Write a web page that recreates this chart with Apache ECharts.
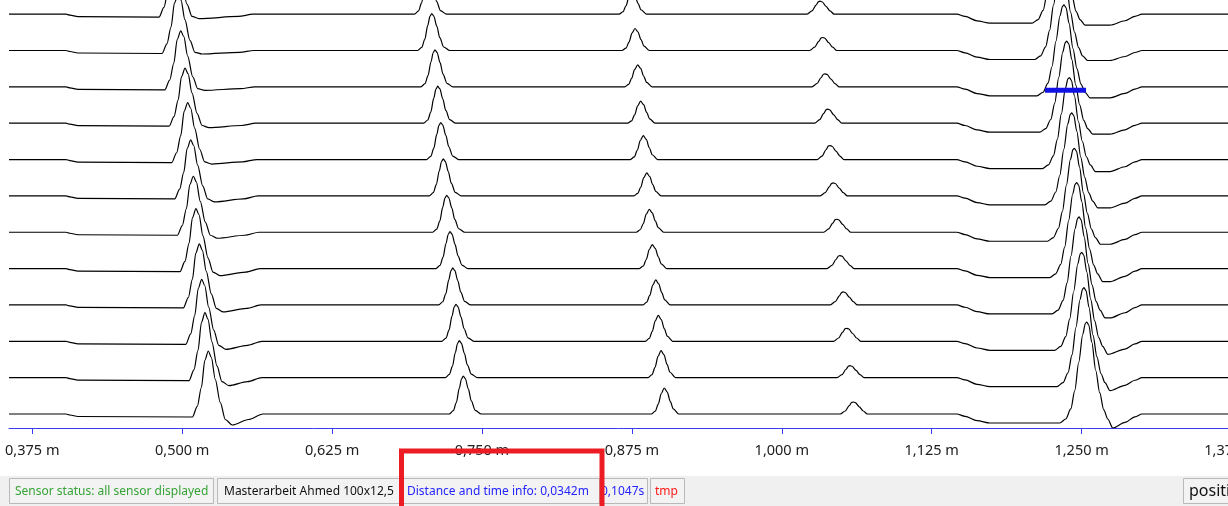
<!DOCTYPE html>
<html>
<head>
<meta charset="utf-8">
<title>Sensor distance profiles</title>
<script src="https://cdn.jsdelivr.net/npm/echarts@6/dist/echarts.min.js"></script>
<style>
  html, body { margin: 0; padding: 0; background: #ffffff; }
  #chart { width: 1228px; height: 506px; }
</style>
</head>
<body>
<div id="chart"></div>
<script>
// Distance axis (mm) and its labelled positions
const axisMinMm = 355.6;
const axisMaxMm = 1375;
const tickValuesMm = [375, 500, 625, 750, 875, 1000, 1125, 1250, 1375];

// Samples shared by every sensor: small steps near the start, the sag before
// the last reflection and the flat tail. Each point is [distance mm, signal].
const startSteps = [[355.6, 0], [403.1, 0], [406.4, -1], [413.1, -2.5]];
const sagSteps = [[1145.9, 0], [1152.8, -2.3], [1162.8, -6.7], [1173.6, -9]];
const tailFlat = [[1300.4, 0], [1375, 0]];

// Sensor 1 (top) ... sensor 12 (bottom): reflections A..E, [distance mm, signal]
const sensor01 = [
  [480.7,-3],[484.8,6.7],[488.2,23.5],[491.1,47.6],[494.0,56],[496.5,50.4],[499.8,30.8],[504.0,10.1],[508.2,-2.3],[514.0,-4.5],[547.0,-2.3],[559.0,0],
  [693.7,0],[697.1,3.2],[699.6,11.2],[702.1,25.1],[703.9,34.1],[705.4,37],[707.1,34.5],[709.6,24.4],[712.1,12.8],[715.4,3.5],[720.4,0],
  [864.3,0],[867.6,2.4],[870.1,8.4],[872.6,17.4],[875.1,22],[877.6,18.5],[880.1,10.8],[882.6,4.4],[887.1,0],
  [1021.1,0],[1025.2,3.3],[1028.6,9.1],[1030.65,12.6],[1031.9,13],[1033.6,12.4],[1036.9,7.8],[1040.2,3.3],[1043.6,0],
  [1208.7,-9],[1213.7,-5.4],[1217.9,3.7],[1221.2,20.1],[1224.5,45.6],[1227.9,71.1],[1230.0,80.6],[1231.2,82],[1232.9,79.3],[1235.4,63.8],[1238.7,38.3],[1242.0,18.3],[1245.4,2.8],[1248.7,-5.4],[1252.9,-11],
  [1273.7,-11],[1286.2,-6.6],[1294.5,-2.2]
];
const sensor02 = [
  [483.2,-3],[487.3,6.7],[490.7,23.5],[493.6,47.6],[496.5,56],[499.0,50.4],[502.3,30.8],[506.5,10.1],[510.7,-1.8],[516.5,-3.5],[547.9,-1.8],[559.9,0],
  [696.4,0],[699.8,3.2],[702.3,11.2],[704.8,25.1],[706.6,34.1],[708.1,37],[709.8,34.5],[712.3,24.4],[714.8,12.8],[718.1,3.5],[723.1,0],
  [866.8,0],[870.1,2.4],[872.6,8.4],[875.1,17.4],[877.6,22],[880.1,18.5],[882.6,10.8],[885.1,4.4],[889.6,0],
  [1023.3,0],[1027.4,3.3],[1030.8,9.1],[1032.85,12.6],[1034.1,13],[1035.8,12.4],[1039.1,7.8],[1042.4,3.3],[1045.8,0],
  [1210.8,-9],[1215.8,-5.4],[1220.0,3.7],[1223.3,20.1],[1226.6,45.6],[1230.0,71.1],[1232.1,80.6],[1233.3,82],[1235.0,79.3],[1237.5,63.8],[1240.8,38.3],[1244.1,18.3],[1247.5,2.8],[1250.8,-5.4],[1255.0,-10],
  [1273.7,-10],[1286.2,-6],[1294.5,-2]
];
const sensor03 = [
  [485.5,-3],[489.6,6.7],[493.0,23.5],[495.9,47.6],[498.8,56],[501.3,50.4],[504.6,30.8],[508.8,10.1],[513.0,-1.8],[518.8,-3.5],[548.7,-1.8],[560.7,0],
  [699.1,0],[702.5,3.2],[705.0,11.2],[707.5,25.1],[709.3,34.1],[710.8,37],[712.5,34.5],[715.0,24.4],[717.5,12.8],[720.8,3.5],[725.8,0],
  [869.0,0],[872.3,2.4],[874.8,8.4],[877.3,17.4],[879.8,22],[882.3,18.5],[884.8,10.8],[887.3,4.4],[891.8,0],
  [1025.2,0],[1029.3,3.3],[1032.7,9.1],[1034.75,12.6],[1036.0,13],[1037.7,12.4],[1041.0,7.8],[1044.3,3.3],[1047.7,0],
  [1212.8,-9],[1217.8,-5.4],[1222.0,3.7],[1225.3,20.1],[1228.6,45.6],[1232.0,71.1],[1234.1,80.6],[1235.3,82],[1237.0,79.3],[1239.5,63.8],[1242.8,38.3],[1246.1,18.3],[1249.5,2.8],[1252.8,-5.4],[1257.0,-11],
  [1273.7,-11],[1286.2,-6.6],[1294.5,-2.2]
];
const sensor04 = [
  [489.1,-3],[493.2,6.6],[496.6,23.1],[499.5,46.8],[502.4,55],[504.9,49.5],[508.2,30.3],[512.4,9.9],[516.6,-2.3],[522.4,-4.5],[549.5,-2.3],[561.5,0],
  [701.4,0],[704.8,3.2],[707.3,11.2],[709.8,25.1],[711.6,34.1],[713.1,37],[714.8,34.5],[717.3,24.4],[719.8,12.8],[723.1,3.5],[728.1,0],
  [871.5,0],[874.8,2.4],[877.3,8.4],[879.8,17.4],[882.3,22],[884.8,18.5],[887.3,10.8],[889.8,4.4],[894.3,0],
  [1027.5,0],[1031.6,3.5],[1035.0,9.8],[1037.05,13.6],[1038.3,14],[1040.0,13.3],[1043.3,8.4],[1046.6,3.5],[1050.0,0],
  [1215.1,-9],[1220.1,-5.4],[1224.3,3.7],[1227.6,20.1],[1230.9,45.6],[1234.3,71.1],[1236.4,80.6],[1237.6,82],[1239.3,79.3],[1241.8,63.8],[1245.1,38.3],[1248.4,18.3],[1251.8,2.8],[1255.1,-5.4],[1259.3,-11],
  [1273.7,-11],[1286.2,-6.6],[1294.5,-2.2]
];
const sensor05 = [
  [491.3,-3],[495.4,6.8],[498.8,23.9],[501.7,48.5],[504.6,57],[507.1,51.3],[510.4,31.4],[514.6,10.3],[518.8,-2.3],[524.6,-4.5],[550.4,-2.3],[562.4,0],
  [703.9,0],[707.3,3.2],[709.8,11.2],[712.3,25.1],[714.1,34.1],[715.6,37],[717.3,34.5],[719.8,24.4],[722.3,12.8],[725.6,3.5],[730.6,0],
  [873.7,0],[877.0,2.6],[879.5,9.1],[882.0,19.0],[884.5,24],[887.0,20.2],[889.5,11.8],[892.0,4.8],[896.5,0],
  [1029.4,0],[1033.5,3.5],[1036.9,9.8],[1038.95,13.6],[1040.2,14],[1041.9,13.3],[1045.2,8.4],[1048.5,3.5],[1051.9,0],
  [1217.3,-9],[1222.3,-5.4],[1226.5,3.7],[1229.8,20.1],[1233.1,45.6],[1236.5,71.1],[1238.6,80.6],[1239.8,82],[1241.5,79.3],[1244.0,63.8],[1247.3,38.3],[1250.6,18.3],[1254.0,2.8],[1257.3,-5.4],[1261.5,-12],
  [1273.7,-12],[1286.2,-7.2],[1294.5,-2.4]
];
const sensor06 = [
  [493.8,-3],[497.9,6.7],[501.3,23.5],[504.2,47.6],[507.1,56],[509.6,50.4],[512.9,30.8],[517.1,10.1],[521.3,-3],[527.1,-6],[551.2,-3],[563.2,0],
  [706.0,0],[709.4,3.2],[711.9,11.2],[714.4,25.1],[716.2,34.1],[717.7,37],[719.4,34.5],[721.9,24.4],[724.4,12.8],[727.7,3.5],[732.7,0],
  [876.6,0],[879.9,2.5],[882.4,8.7],[884.9,18.2],[887.4,23],[889.9,19.3],[892.4,11.3],[894.9,4.6],[899.4,0],
  [1032.1,0],[1036.2,3.3],[1039.6,9.1],[1041.65,12.6],[1042.9,13],[1044.6,12.4],[1047.9,7.8],[1051.2,3.3],[1054.6,0],
  [1219.3,-9],[1224.3,-5.3],[1228.5,3.9],[1231.8,20.4],[1235.1,46.2],[1238.5,72.0],[1240.6,81.6],[1241.8,83],[1243.5,80.2],[1246.0,64.6],[1249.3,38.8],[1252.6,18.6],[1256.0,3.0],[1259.3,-5.3],[1263.5,-12],
  [1273.7,-12],[1286.2,-7.2],[1294.5,-2.4]
];
const sensor07 = [
  [496.0,-3],[500.1,6.7],[503.5,23.5],[506.4,47.6],[509.3,56],[511.8,50.4],[515.1,30.8],[519.3,10.1],[523.5,-3],[529.3,-6],[552.1,-3],[564.1,0],
  [708.9,0],[712.3,3.2],[714.8,11.2],[717.3,25.1],[719.1,34.1],[720.6,37],[722.3,34.5],[724.8,24.4],[727.3,12.8],[730.6,3.5],[735.6,0],
  [878.7,0],[882.0,2.5],[884.5,8.7],[887.0,18.2],[889.5,23],[892.0,19.3],[894.5,11.3],[897.0,4.6],[901.5,0],
  [1035.0,0],[1039.1,3.3],[1042.5,9.1],[1044.55,12.6],[1045.8,13],[1047.5,12.4],[1050.8,7.8],[1054.1,3.3],[1057.5,0],
  [1221.5,-9],[1226.5,-5.3],[1230.7,4.0],[1234.0,20.8],[1237.3,46.8],[1240.7,72.8],[1242.8,82.6],[1244.0,84],[1245.7,81.2],[1248.2,65.4],[1251.5,39.4],[1254.8,18.9],[1258.2,3.1],[1261.5,-5.3],[1265.7,-12],
  [1273.7,-12],[1286.2,-7.2],[1294.5,-2.4]
];
const sensor08 = [
  [498.2,-3],[502.3,7.2],[505.7,25.2],[508.6,51],[511.5,60],[514.0,54],[517.3,33],[521.5,10.8],[525.7,-3.5],[531.5,-7],[552.9,-3.5],[564.9,0],
  [711.6,0],[715.0,3.2],[717.5,11.2],[720.0,25.1],[721.8,34.1],[723.3,37],[725.0,34.5],[727.5,24.4],[730.0,12.8],[733.3,3.5],[738.3,0],
  [881.2,0],[884.5,2.6],[887.0,9.1],[889.5,19.0],[892.0,24],[894.5,20.2],[897.0,11.8],[899.5,4.8],[904.0,0],
  [1037.7,0],[1041.8,3.3],[1045.2,9.1],[1047.25,12.6],[1048.5,13],[1050.2,12.4],[1053.5,7.8],[1056.8,3.3],[1060.2,0],
  [1223.4,-9],[1228.4,-5.2],[1232.6,4.3],[1235.9,21.4],[1239.2,48],[1242.6,74.6],[1244.7,84.6],[1245.9,86],[1247.6,83.2],[1250.1,67],[1253.4,40.4],[1256.7,19.5],[1260.1,3.4],[1263.4,-5.2],[1267.6,-13],
  [1273.7,-13],[1286.2,-7.8],[1294.5,-2.6]
];
const sensor09 = [
  [501.0,-3],[505.1,7.3],[508.5,25.6],[511.4,51.9],[514.3,61],[516.8,54.9],[520.1,33.6],[524.3,11.0],[528.5,-3.5],[534.3,-7],[553.7,-3.5],[565.7,0],
  [713.9,0],[717.3,3.2],[719.8,11.2],[722.3,25.1],[724.1,34.1],[725.6,37],[727.3,34.5],[729.8,24.4],[732.3,12.8],[735.6,3.5],[740.6,0],
  [884.1,0],[887.4,2.8],[889.9,9.5],[892.4,19.8],[894.9,25],[897.4,21],[899.9,12.3],[902.4,5],[906.9,0],
  [1040.5,0],[1044.6,3.3],[1048.0,9.1],[1050.05,12.6],[1051.3,13],[1053.0,12.4],[1056.3,7.8],[1059.6,3.3],[1063.0,0],
  [1225.4,-9],[1230.4,-5.1],[1234.6,4.6],[1237.9,22.0],[1241.2,49.2],[1244.6,76.4],[1246.7,86.5],[1247.9,88],[1249.6,85.1],[1252.1,68.6],[1255.4,41.4],[1258.7,20.1],[1262.1,3.6],[1265.4,-5.1],[1269.6,-13],
  [1273.7,-13],[1286.2,-7.8],[1294.5,-2.6]
];
const sensor10 = [
  [503.0,-3],[507.1,7.4],[510.5,26.0],[513.4,52.7],[516.3,62],[518.8,55.8],[522.1,34.1],[526.3,11.2],[530.5,-4],[536.3,-8],[554.5,-4],[566.5,0],
  [716.6,0],[720.0,3.2],[722.5,11.2],[725.0,25.1],[726.8,34.1],[728.3,37],[730.0,34.5],[732.5,24.4],[735.0,12.8],[738.3,3.5],[743.3,0],
  [886.2,0],[889.5,2.9],[892.0,9.9],[894.5,20.5],[897.0,26],[899.5,21.8],[902.0,12.7],[904.5,5.2],[909.0,0],
  [1043.3,0],[1047.4,3.3],[1050.8,9.1],[1052.85,12.6],[1054.1,13],[1055.8,12.4],[1059.1,7.8],[1062.4,3.3],[1065.8,0],
  [1227.6,-9],[1232.6,-5.1],[1236.8,4.7],[1240.1,22.4],[1243.4,49.8],[1246.8,77.2],[1248.9,87.5],[1250.1,89],[1251.8,86.1],[1254.3,69.4],[1257.6,42.0],[1260.9,20.4],[1264.3,3.7],[1267.6,-5.1],[1271.8,-13],
  [1286.2,-7.8],[1294.5,-2.6]
];
const sensor11 = [
  [505.7,-3],[509.8,7.8],[513.2,27.3],[516.1,55.3],[519.0,65],[521.5,58.5],[524.8,35.8],[529.0,11.7],[533.2,-4],[539.0,-8],[554.5,-4],[566.5,0],
  [719.4,0],[722.8,3.2],[725.3,11.2],[727.8,25.1],[729.6,34.1],[731.1,37],[732.8,34.5],[735.3,24.4],[737.8,12.8],[741.1,3.5],[746.1,0],
  [888.5,0],[891.8,3.0],[894.3,10.3],[896.8,21.3],[899.3,27],[901.8,22.7],[904.3,13.2],[906.8,5.4],[911.3,0],
  [1046.1,0],[1050.2,3],[1053.6,8.4],[1055.65,11.6],[1056.9,12],[1058.6,11.4],[1061.9,7.2],[1065.2,3],[1068.6,0],
  [1229.5,-9],[1234.5,-5.0],[1238.7,4.9],[1242.0,22.7],[1245.3,50.4],[1248.7,78.1],[1250.8,88.5],[1252.0,90],[1253.7,87.0],[1256.2,70.2],[1259.5,42.5],[1262.8,20.7],[1266.2,3.9],[1269.5,-5.0],[1273.7,-13],
  [1286.2,-7.8],[1294.5,-2.6]
];
const sensor12 = [
  [508.5,-3],[512.6,7.6],[516.0,26.5],[518.9,53.6],[521.8,63],[524.3,56.7],[527.6,34.7],[531.8,11.3],[536.0,-5.5],[541.8,-11],[555.4,-5.5],[567.4,0],
  [722.7,0],[726.1,3.3],[728.6,11.5],[731.1,25.8],[732.9,35.0],[734.4,38],[736.1,35.4],[738.6,25.1],[741.1,13.1],[744.4,3.6],[749.4,0],
  [891.2,0],[894.5,2.9],[897.0,9.9],[899.5,20.5],[902.0,26],[904.5,21.8],[907.0,12.7],[909.5,5.2],[914.0,0],
  [1048.8,0],[1052.9,3],[1056.3,8.4],[1058.35,11.6],[1059.6,12],[1061.3,11.4],[1064.6,7.2],[1067.9,3],[1071.3,0],
  [1231.8,-9],[1236.8,-5.0],[1241.0,5.1],[1244.3,23.3],[1247.6,51.6],[1251.0,79.9],[1253.1,90.5],[1254.3,92],[1256.0,89.0],[1258.5,71.8],[1261.8,43.5],[1265.1,21.3],[1268.5,4.1],[1271.8,-5.0],[1276.0,-14],
  [1286.2,-8.4],[1294.5,-2.8]
];
const sensors = [sensor01, sensor02, sensor03, sensor04, sensor05, sensor06,
                 sensor07, sensor08, sensor09, sensor10, sensor11, sensor12];

// Waterfall layout: vertical gap between neighbouring sensor baselines (signal units)
const traceSpacing = 36.35;

// Measuring cursor on sensor 3: start position and measured width (mm)
const cursorSensor = 2;
const cursorStartMm = 1219.5;
const cursorWidthMm = 34.2;
const cursorLevel = -3.5;
const cursorTimeS = 0.1047;

// Status bar texts
const statusSensor = 'Sensor status: all sensor displayed';
const statusProject = 'Masterarbeit Ahmed 100x12,5';
const statusDistance = 'Distance and time info: ' + (cursorWidthMm / 1000).toFixed(4).replace('.', ',') + 'm';
const statusTime = cursorTimeS.toFixed(4).replace('.', ',') + 's';
const statusTmp = 'tmp';
const statusPosition = 'position';

function baseOffset(k) {
  return (sensors.length - 1 - k) * traceSpacing;
}

const series = sensors.map((pts, k) => {
  const all = startSteps.concat(pts, sagSteps, tailFlat).slice().sort((a, b) => a[0] - b[0]);
  const off = baseOffset(k);
  return {
    type: 'line',
    name: 'Sensor ' + (k + 1),
    data: all.map(p => [p[0], p[1] + off]),
    showSymbol: false,
    smooth: 0.3,
    smoothMonotone: 'x',
    lineStyle: { color: '#000000', width: 1.2 },
    silent: true,
    z: 2
  };
});

const cursorY = baseOffset(cursorSensor) + cursorLevel;
series.push({
  type: 'line',
  name: 'cursor',
  data: [[cursorStartMm, cursorY], [cursorStartMm + cursorWidthMm, cursorY]],
  showSymbol: false,
  lineStyle: { color: '#1212e6', width: 5, cap: 'butt' },
  silent: true,
  z: 5
});

const chart = echarts.init(document.getElementById('chart'), null, { renderer: 'canvas' });

// One sunken status-bar cell with its text
function panel(x, w, textDx, text, color, size) {
  return [
    {
      type: 'rect',
      shape: { x: x + 0.5, y: 478.5, width: w, height: 25 },
      style: { fill: '#f3f3f3', stroke: '#b9b9b9', lineWidth: 1 },
      z: 10, silent: true
    },
    {
      type: 'text',
      x: x + textDx, y: 491.5,
      style: {
        text: text, fill: color,
        font: (size || 12) + 'px "Noto Sans", sans-serif',
        textVerticalAlign: 'middle', verticalAlign: 'middle'
      },
      z: 11, silent: true
    }
  ];
}

const graphics = [
  {
    type: 'rect',
    shape: { x: 0, y: 476, width: 1228, height: 30 },
    style: { fill: '#f0f0f0' },
    z: 9, silent: true
  }
].concat(
  panel(9, 204, 6, statusSensor, '#36a336'),
  panel(217, 183, 7, statusProject, '#111111'),
  panel(402, 197, 5, statusDistance, '#2424ff'),
  panel(601, 46, 0, statusTime, '#2424ff'),
  panel(650, 34, 5, statusTmp, '#ff1a1a'),
  panel(1183, 60, 6, statusPosition, '#111111', 16),
  [{
    type: 'rect',
    shape: { x: 401.5, y: 451, width: 200.5, height: 70 },
    style: { fill: 'none', stroke: '#ed1c24', lineWidth: 5 },
    z: 20, silent: true
  }]
);

chart.setOption({
  animation: false,
  backgroundColor: '#ffffff',
  grid: { left: 9, top: 0, width: 1222.5, height: 428, outerBoundsMode: 'none', containLabel: false },
  xAxis: {
    type: 'value',
    min: axisMinMm,
    max: axisMaxMm,
    axisLine: { show: true, onZero: false, lineStyle: { color: '#3b3bf6', width: 1 } },
    axisTick: { show: true, customValues: tickValuesMm, length: 6, lineStyle: { color: '#3b3bf6', width: 1 } },
    axisLabel: {
      customValues: tickValuesMm,
      margin: 15,
      color: '#202020',
      fontFamily: 'Noto Sans',
      fontSize: 14.5,
      formatter: v => (v / 1000).toFixed(3).replace('.', ',') + ' m'
    },
    splitLine: { show: false }
  },
  yAxis: {
    type: 'value',
    min: -14,
    max: 414,
    show: false
  },
  series: series,
  graphic: graphics
});
</script>
</body>
</html>
